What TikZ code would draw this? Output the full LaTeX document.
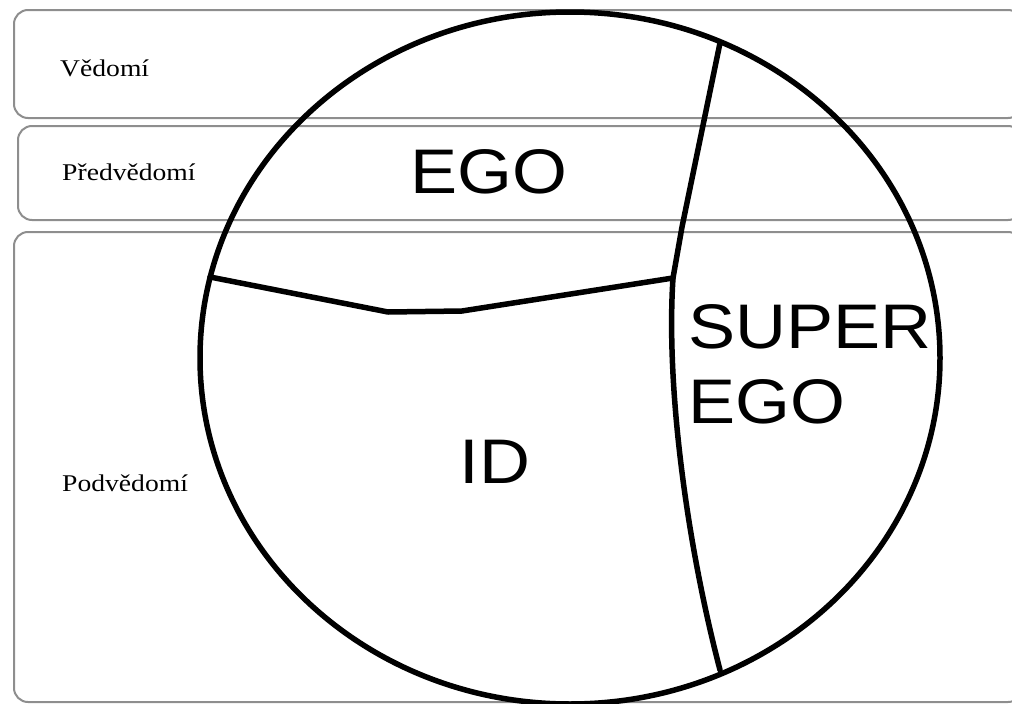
\documentclass[tikz,border=0pt]{standalone}
\usepackage{fontspec}
\usetikzlibrary{shapes.geometric}
\setmainfont{Liberation Serif}
\newfontfamily\arialf{Liberation Sans}
\definecolor{bandgray}{HTML}{8E8E8E}
\begin{document}
\begin{tikzpicture}[x=1pt,y=-1pt,
  band/.style={draw=bandgray, line width=2pt, rounded corners=14pt},
  big/.style={font=\arialf\fontsize{63}{70}\selectfont, xscale=1.12, inner sep=0pt, anchor=base},
  small/.style={font=\fontsize{24}{28}\selectfont, xscale=1.15, inner sep=0pt, anchor=west},
  psy/.style={line width=5.5pt, line join=round, line cap=round}]
\useasboundingbox (0,0) rectangle (1012,704);
% bands
\draw[band] (14,10) rectangle (1022,118);
\draw[band] (18,126) rectangle (1022,220);
\draw[band] (14,232) rectangle (1022,702);
\node[small] (ved) at (60,68) {Vědomí};
\node[small] (pred) at (62,172) {Předvědomí};
\node[small] (pod) at (62,483) {Podvědomí};
% psyche
\node[psy, draw, ellipse, minimum width=740pt, minimum height=692pt, inner sep=0pt] (psyche) at (570,358) {};
\coordinate (st) at (720,43);
\coordinate (j) at (673,278);
\coordinate (sb) at (720,670);
\coordinate (el) at (210,277);
\draw[psy] (st) -- (682,227) -- (j) .. controls (666,385) and (686,540) .. (sb);
\draw[psy] (el) -- (388,312) -- (462,311) -- (j);
% labels
\node[big] (ego) at (489,193) {EGO};
\node[big, anchor=base west] (super) at (688,348) {SUPER};
\node[big, anchor=base west] (sego) at (688,423) {EGO};
\node[big] (id) at (495,483) {ID};
\end{tikzpicture}
\end{document}
